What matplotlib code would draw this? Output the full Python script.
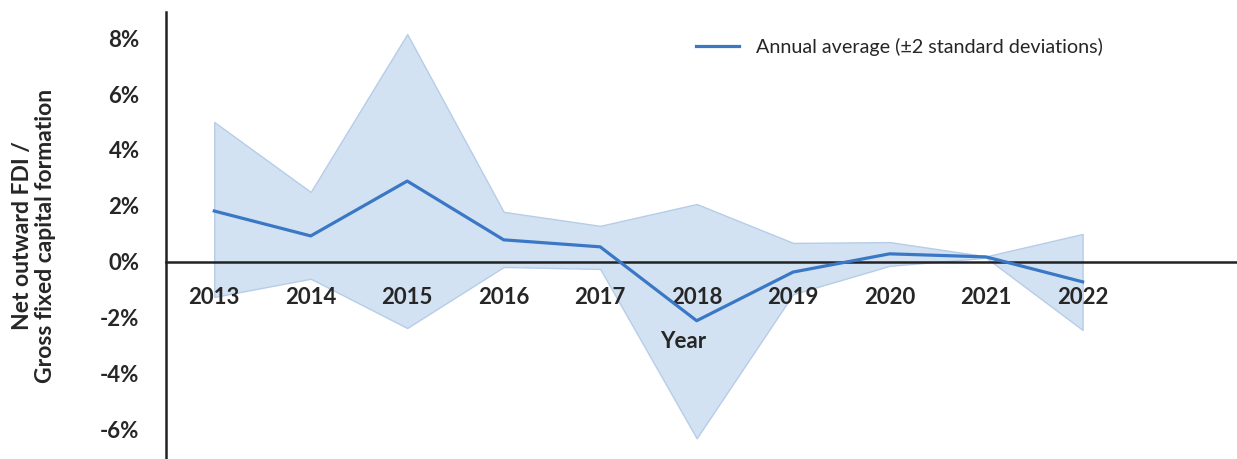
import matplotlib
matplotlib.use("Agg")
import matplotlib.pyplot as plt
from matplotlib.ticker import FuncFormatter

# Net outward FDI as a share of gross fixed capital formation (%)
years = [2013, 2014, 2015, 2016, 2017, 2018, 2019, 2020, 2021, 2022]
annual_avg = [1.82, 0.93, 2.89, 0.79, 0.54, -2.10, -0.36, 0.29, 0.18, -0.71]
upper_2sd = [5.00, 2.50, 8.14, 1.79, 1.29, 2.07, 0.68, 0.71, 0.20, 1.00]
lower_2sd = [-1.25, -0.60, -2.36, -0.18, -0.25, -6.30, -1.15, -0.14, 0.15, -2.43]
y_ticks = [-6, -4, -2, 0, 2, 4, 6, 8]

line_color = "#3a78c6"
fill_color = "#d3e2f2"
fill_edge = "#b6cde8"
text_color = "#262626"

plt.rcParams["font.family"] = ["Lato", "DejaVu Sans"]

fig = plt.figure(figsize=(12.37, 4.59), dpi=100)
ax = fig.add_axes([166 / 1237, 0.0, 1 - 166 / 1237, 1 - 12 / 459])

ax.fill_between(years, lower_2sd, upper_2sd, facecolor=fill_color,
                edgecolor=fill_edge, linewidth=1.0, zorder=1)
ax.plot(years, annual_avg, color=line_color, linewidth=2.3, zorder=3,
        label="Annual average (±2 standard deviations)")

ax.set_xlim(2012.5, 2023.6)
ax.set_ylim(-7.04, 8.93)

ax.spines["top"].set_visible(False)
ax.spines["right"].set_visible(False)
ax.spines["bottom"].set_position(("data", 0))
ax.spines["bottom"].set_linewidth(1.8)
ax.spines["bottom"].set_color("#222222")
ax.spines["bottom"].set_zorder(2)
ax.spines["left"].set_linewidth(1.8)
ax.spines["left"].set_color("#222222")

ax.set_xticks(years)
ax.set_xticklabels([str(y) for y in years])
ax.set_yticks(y_ticks)
ax.yaxis.set_major_formatter(FuncFormatter(lambda v, _: f"{v:.0f}%"))

ax.tick_params(axis="x", length=0, pad=18, labelsize=16, labelcolor=text_color)
ax.tick_params(axis="y", length=0, pad=19, labelsize=16, labelcolor=text_color)
for lab in ax.get_xticklabels() + ax.get_yticklabels():
    lab.set_fontweight("bold")

ax.text((683 - 166) / 1071, (459 - 342) / 447, "Year", transform=ax.transAxes,
        ha="center", va="center", fontsize=16, fontweight="bold", color=text_color)

fig.text(34 / 1237, 1 - 236 / 459, "Net outward FDI /\nGross fixed capital formation",
         rotation=90, ha="center", va="center", fontsize=16.5, fontweight="bold",
         color=text_color, linespacing=1.12)

leg = ax.legend(loc="center right", bbox_to_anchor=((1103 - 166) / 1071, (459 - 47) / 447),
                frameon=False, fontsize=14.2, handlelength=2.2, handletextpad=0.85,
                borderaxespad=0, borderpad=0)
for t in leg.get_texts():
    t.set_color(text_color)

fig.savefig("out.png", dpi=100)
